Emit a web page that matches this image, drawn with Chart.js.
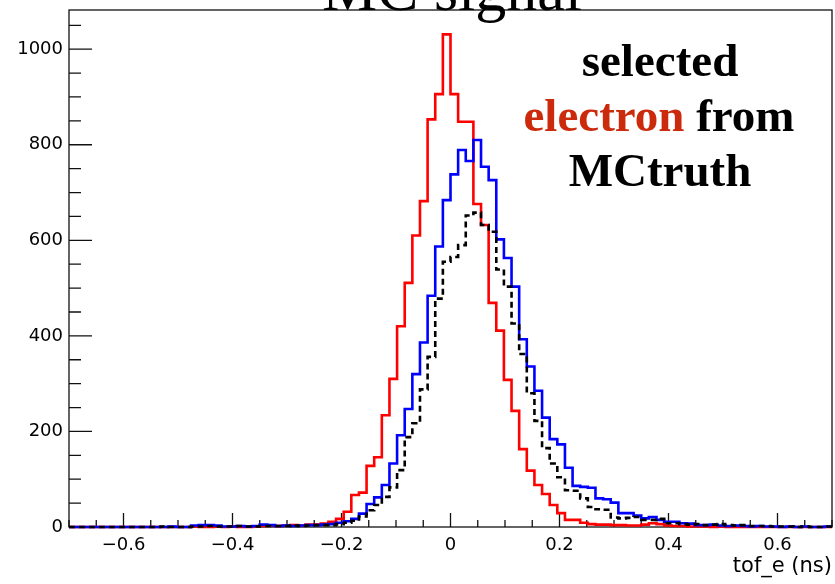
<!DOCTYPE html>
<html>
<head>
<meta charset="utf-8">
<title>MC signal</title>
<script src="https://cdn.jsdelivr.net/npm/chart.js@4.4.1/dist/chart.umd.min.js"></script>
<style>
  html, body { margin: 0; padding: 0; background: #fff; }
  #wrap { width: 835px; height: 584px; }
</style>
</head>
<body>
<div id="wrap"><canvas id="c" width="835" height="584"></canvas></div>
<script>
// binning of the histograms: 100 bins on [-0.7, 0.7]
var binLow = -0.7;
var binWidth = 0.014;

// tick labels
var xTickValues = [-0.6, -0.4, -0.2, 0, 0.2, 0.4, 0.6];
var xTickLabels = ['\u22120.6', '\u22120.4', '\u22120.2', '0', '0.2', '0.4', '0.6'];
var yTickValues = [0, 200, 400, 600, 800, 1000];
var yTickLabels = ['0', '200', '400', '600', '800', '1000'];

// bin contents
var redCounts = [
  0, 0, 0, 0, 0, 0, 0, 0, 0, 0,
  0, 0, 0, 0, 0, 0, 1, 0, 0, 1,
  0, 1, 0, 0, 1, 2, 3, 2, 3, 4,
  3, 5, 5, 7, 11, 17, 32, 67, 72, 128,
  146, 234, 310, 420, 511, 610, 682, 853, 906, 1031,
  906, 848, 848, 676, 632, 469, 411, 308, 243, 163,
  118, 88, 69, 46, 29, 15, 15, 9, 6, 5,
  5, 4, 4, 3, 3, 5, 8, 6, 3, 2,
  2, 1, 1, 1, 0, 1, 0, 0, 0, 0,
  0, 0, 0, 0, 0, 0, 0, 0, 0, 0
];
var blueCounts = [
  0, 0, 0, 0, 0, 0, 0, 0, 0, 0,
  0, 0, 0, 1, 0, 0, 3, 4, 4, 3,
  1, 1, 2, 1, 2, 5, 4, 2, 3, 2,
  3, 4, 4, 5, 6, 9, 12, 17, 28, 48,
  62, 88, 133, 192, 247, 320, 386, 484, 587, 684,
  738, 789, 766, 810, 754, 726, 602, 563, 503, 393,
  336, 285, 229, 184, 173, 124, 86, 84, 82, 60,
  58, 51, 29, 29, 24, 18, 21, 15, 11, 11,
  8, 7, 4, 4, 5, 3, 2, 3, 2, 1,
  2, 1, 1, 0, 1, 0, 1, 0, 0, 1
];
var blackCounts = [
  0, 0, 0, 0, 0, 0, 0, 0, 0, 0,
  0, 0, 1, 0, 0, 0, 1, 1, 2, 1,
  1, 1, 2, 1, 1, 2, 2, 2, 2, 3,
  2, 3, 4, 4, 4, 6, 9, 13, 22, 35,
  46, 63, 83, 119, 188, 217, 288, 356, 478, 555,
  565, 590, 652, 658, 632, 618, 539, 503, 426, 362,
  280, 222, 165, 133, 104, 77, 76, 60, 42, 37,
  36, 20, 18, 19, 21, 15, 15, 17, 8, 8,
  6, 5, 6, 4, 5, 6, 4, 3, 4, 2,
  2, 2, 1, 1, 1, 0, 1, 0, 0, 1
];

// left bin edges + closing point, drawn as a step line
function histPoints(counts) {
  var pts = counts.map(function (c, i) {
    return { x: binLow + i * binWidth, y: c };
  });
  pts.push({ x: binLow + counts.length * binWidth, y: counts[counts.length - 1] });
  return pts;
}

function near(v, list) {
  for (var i = 0; i < list.length; i++) {
    if (Math.abs(v - list[i]) < 1e-6) return i;
  }
  return -1;
}

var labelFont = { family: '"DejaVu Sans", "Liberation Sans", Arial, sans-serif', size: 18 };

// ROOT-like frame with inward ticks
var rootFrame = {
  id: 'rootFrame',
  beforeDatasetsDraw: function (chart) {
    var ctx = chart.ctx, a = chart.chartArea;
    var xs = chart.scales.x, ys = chart.scales.y;
    ctx.save();
    ctx.strokeStyle = '#111';
    ctx.lineWidth = 1.3;
    ctx.strokeRect(a.left, a.top, a.right - a.left, a.bottom - a.top);
    ctx.beginPath();
    ys.ticks.forEach(function (t) {
      var y = ys.getPixelForValue(t.value);
      var len = near(t.value, yTickValues) >= 0 ? 23 : 12;
      ctx.moveTo(a.left, y);
      ctx.lineTo(a.left + len, y);
    });
    xs.ticks.forEach(function (t) {
      var x = xs.getPixelForValue(t.value);
      var len = near(t.value, xTickValues) >= 0 ? 14 : 7;
      ctx.moveTo(x, a.bottom);
      ctx.lineTo(x, a.bottom - len);
    });
    ctx.stroke();
    ctx.restore();
  },
  afterDraw: function (chart) {
    var ctx = chart.ctx, a = chart.chartArea;
    ctx.save();
    // axis title
    ctx.fillStyle = '#000';
    ctx.font = '21px ' + labelFont.family;
    ctx.textAlign = 'right';
    ctx.textBaseline = 'alphabetic';
    ctx.fillText('tof_e (ns)', a.right, 572);

    // pad title, cut by the top of the picture
    ctx.font = '62px "Liberation Serif", "Times New Roman", serif';
    ctx.textAlign = 'center';
    ctx.fillText('MC signal', 452, 10);

    // annotation
    ctx.font = 'bold 47px "Liberation Serif", "Times New Roman", serif';
    ctx.textAlign = 'center';
    ctx.fillText('selected', 660, 76);
    ctx.fillText('MCtruth', 660, 186);
    var w1 = ctx.measureText('electron ').width;
    var w2 = ctx.measureText('from').width;
    var x0 = 659 - (w1 + w2) / 2;
    ctx.textAlign = 'left';
    ctx.fillStyle = '#cc2a0c';
    ctx.fillText('electron', x0, 131);
    ctx.fillStyle = '#000';
    ctx.fillText('from', x0 + w1, 131);
    ctx.restore();
  }
};

var chart = new Chart(document.getElementById('c'), {
  type: 'line',
  data: {
    datasets: [
      {
        label: 'black',
        data: histPoints(blackCounts),
        borderColor: '#000',
        borderWidth: 2.6,
        borderDash: [6, 4],
        stepped: 'before',
        pointRadius: 0,
        fill: false,
        clip: false
      },
      {
        label: 'blue',
        data: histPoints(blueCounts),
        borderColor: '#0000ff',
        borderWidth: 2.6,
        stepped: 'before',
        pointRadius: 0,
        fill: false,
        clip: false
      },
      {
        label: 'red',
        data: histPoints(redCounts),
        borderColor: '#ff0000',
        borderWidth: 2.6,
        stepped: 'before',
        pointRadius: 0,
        fill: false,
        clip: false
      }
    ]
  },
  options: {
    responsive: false,
    animation: false,
    devicePixelRatio: 1,
    layout: { padding: { left: 0, top: 10, right: 3, bottom: 0 } },
    plugins: {
      legend: { display: false },
      tooltip: { enabled: false }
    },
    scales: {
      x: {
        type: 'linear',
        min: -0.7,
        max: 0.7,
        grid: { display: false, drawTicks: false },
        border: { display: false },
        ticks: {
          stepSize: 0.05,
          autoSkip: false,
          maxRotation: 0,
          padding: 8,
          color: '#000',
          font: labelFont,
          callback: function (v) {
            var i = near(v, xTickValues);
            return i >= 0 ? xTickLabels[i] : '';
          }
        },
        afterFit: function (scale) {
          scale.height = 57;
          scale.paddingLeft = 0;
          scale.paddingRight = 0;
        }
      },
      y: {
        type: 'linear',
        min: 0,
        max: 1082,
        grid: { display: false, drawTicks: false },
        border: { display: false },
        ticks: {
          stepSize: 50,
          includeBounds: false,
          autoSkip: false,
          padding: 6,
          color: '#000',
          font: labelFont,
          callback: function (v) {
            var i = near(v, yTickValues);
            return i >= 0 ? yTickLabels[i] : '';
          }
        },
        afterFit: function (scale) {
          scale.width = 69;
          scale.paddingTop = 0;
          scale.paddingBottom = 0;
        }
      }
    }
  },
  plugins: [rootFrame]
});
</script>
</body>
</html>
